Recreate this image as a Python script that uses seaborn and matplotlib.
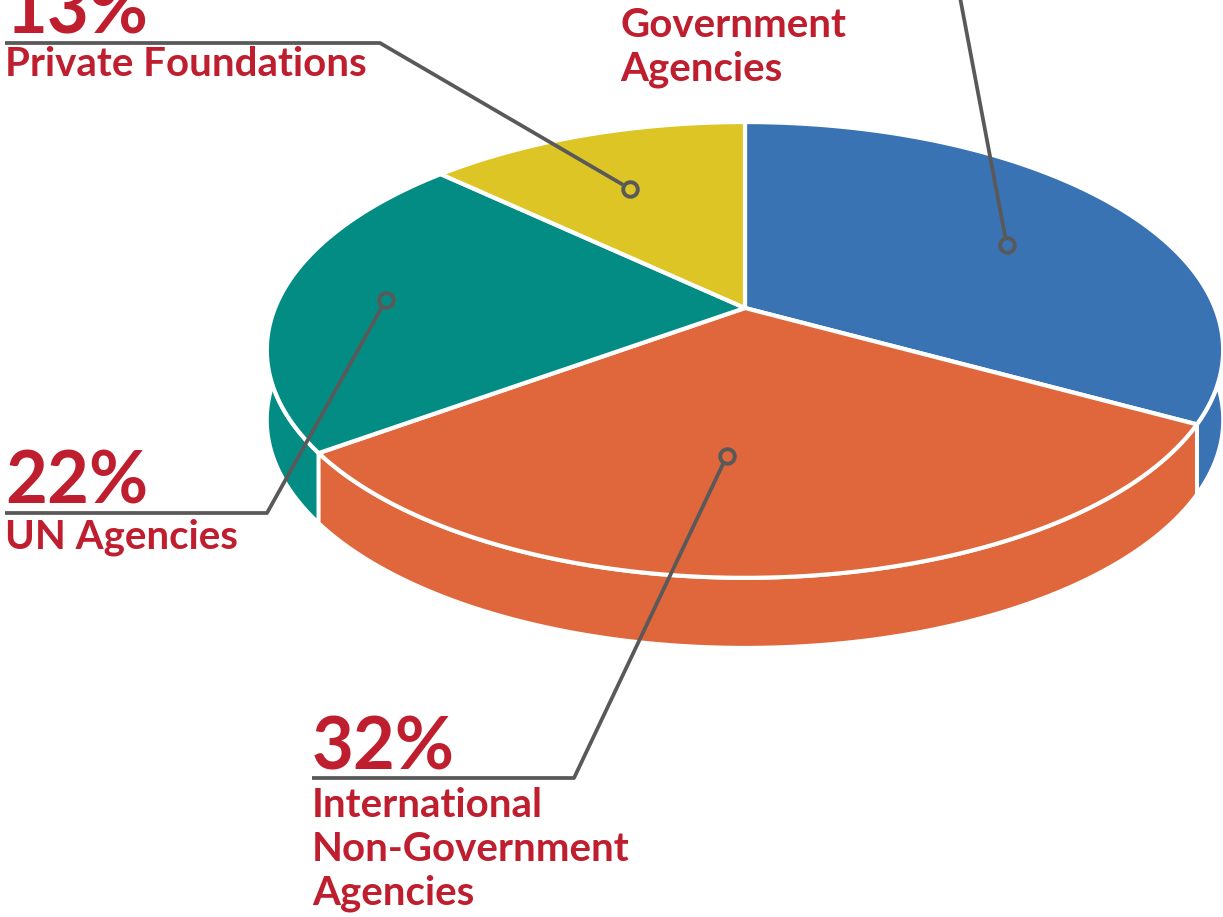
import numpy as np
import matplotlib
matplotlib.use("Agg")
import matplotlib.pyplot as plt
from matplotlib.patches import Polygon
import seaborn as sns

sns.set_theme(style="white")
plt.rcParams['font.family'] = ['Lato', 'DejaVu Sans']

# data, clockwise from 12 o'clock
categories = ["Government Agencies", "International Non-Government Agencies",
              "UN Agencies", "Private Foundations"]
shares = [33, 32, 22, 13]
name_lines = [["Government", "Agencies"],
              ["International", "Non-Government", "Agencies"],
              ["UN Agencies"],
              ["Private Foundations"]]
colors = sns.color_palette(["#3A73B4", "#E0663B", "#038C84", "#DCC524"])

# label layout (pixel space): anchor radius / position in slice, elbow, line end, text x
anchor_r = [0.66, 0.60, 0.77, 0.66]
anchor_frac = [0.53, 0.56, 0.49, 0.48]
elbows = [(959, -8), (574, 778), (267, 513), (380, 43)]
line_end_x = [620, 312, 5, 5]
name_base = [37, 817, 548, 76]

RED = "#BE1E2D"
GREY = "#595959"

# perspective pie geometry
CX, CY, A, P, K, DEPTH = 745, 308, 470, 163.5, -0.184, 70


def proj(r, ang, drop=0.0):
    a = np.radians(ang)
    u = r * np.sin(a)
    v = -r * np.cos(a)
    den = 1 + K * v
    return CX + A * u / den, (P * v + CY) / den + drop


fig = plt.figure(figsize=(12.23, 9.17), dpi=100)
ax = fig.add_axes([0, 0, 1, 1])
ax.set_xlim(0, 1223)
ax.set_ylim(917, 0)
ax.axis("off")

bounds = np.concatenate([[0], np.cumsum(shares)]) / sum(shares) * 360

# side walls, back first
walls = []
for i in range(len(shares)):
    angs = np.linspace(bounds[i], bounds[i + 1], 120)
    tx, ty = proj(1, angs)
    bx, by = proj(1, angs, DEPTH)
    pts = np.column_stack([np.concatenate([tx, bx[::-1]]), np.concatenate([ty, by[::-1]])])
    walls.append((np.max(-np.cos(np.radians(angs))), pts, colors[i]))
for _, pts, c in sorted(walls, key=lambda w: w[0]):
    ax.add_patch(Polygon(pts, closed=True, facecolor=c, edgecolor="white", lw=2.8, joinstyle="round"))

# top faces
for i in range(len(shares)):
    angs = np.linspace(bounds[i], bounds[i + 1], 120)
    tx, ty = proj(1, angs)
    pts = np.column_stack([np.concatenate([[CX], tx]), np.concatenate([[CY], ty])])
    ax.add_patch(Polygon(pts, closed=True, facecolor=colors[i], edgecolor="white", lw=3.0, joinstyle="round"))

# leader lines and labels
for i in range(len(shares)):
    ang = bounds[i] + anchor_frac[i] * (bounds[i + 1] - bounds[i])
    mx, my = proj(anchor_r[i], ang)
    ex, ey = elbows[i]
    # line stops at the ring edge so the ring stays open
    d = np.hypot(ex - mx, ey - my)
    sx, sy = mx + (ex - mx) * 8 / d, my + (ey - my) * 8 / d
    ax.plot([sx, ex, line_end_x[i]], [sy, ey, ey], color=GREY, lw=2.7,
            solid_capstyle="butt", clip_on=False)
    ax.plot([mx], [my], marker="o", ms=10.5, mfc="none", mec=GREY, mew=2.8)
    tx = line_end_x[i]
    ax.text(tx, ey - 9, f"{shares[i]}%", color=RED, fontsize=52, fontweight="bold",
            ha="left", va="baseline")
    for j, line in enumerate(name_lines[i]):
        ax.text(tx, name_base[i] + j * 44, line, color=RED, fontsize=29,
                fontweight="bold", ha="left", va="baseline")

fig.savefig("out.png", dpi=100)
